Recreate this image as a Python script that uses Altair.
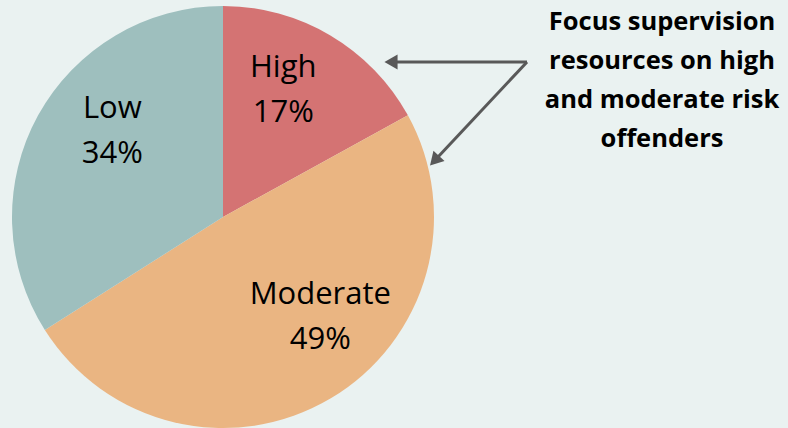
import altair as alt
import pandas as pd

categories = ["High", "Moderate", "Low"]
shares = [17, 49, 34]
labels = ["High\n17%", "Moderate\n49%", "Low\n34%"]
colors = ["#D47373", "#EAB582", "#9EBFBE"]
note_lines = ["Focus supervision", "resources on high", "and moderate risk", "offenders"]

df = pd.DataFrame({
    "category": categories,
    "share": shares,
    "label": labels,
    "order": list(range(len(categories))),
})
TOTAL = sum(shares)

CX, CY, R = 223, 217, 211

arcs = alt.Chart(df).mark_arc(outerRadius=R).encode(
    theta=alt.Theta("share:Q", stack=True),
    order=alt.Order("order:Q"),
    x=alt.value(CX),
    y=alt.value(CY),
    color=alt.Color("category:N", scale=alt.Scale(domain=categories, range=colors), legend=None),
)

offsets = {"High": (-11, -19), "Moderate": (26, -34), "Low": (12, -32)}
text_layers = []
for cat in categories:
    dx, dy = offsets[cat]
    text_layers.append(
        alt.Chart(df)
        .transform_window(cum="sum(share)", sort=[alt.SortField("order")], frame=[None, 0])
        .transform_calculate(mid="datum.cum - datum.share / 2")
        .transform_filter(alt.datum.category == cat)
        .mark_text(radius=140, dx=dx, dy=dy, font="Open Sans", fontSize=31,
                   color="#000000", lineBreak="\n", lineHeight=45,
                   align="center", baseline="alphabetic")
        .encode(
            theta=alt.Theta("mid:Q", scale=alt.Scale(domain=[0, TOTAL])),
            x=alt.value(CX),
            y=alt.value(CY),
            text="label:N",
        )
    )

note_df = pd.DataFrame({"text": ["\n".join(note_lines)]})
note = alt.Chart(note_df).mark_text(
    font="Open Sans", fontWeight="bold", fontSize=25.5, lineBreak="\n", lineHeight=39,
    align="center", baseline="alphabetic", color="#000000"
).encode(text="text:N", x=alt.value(662), y=alt.value(30))

arrow_df = pd.DataFrame({"a": [0]})
arrow_color = "#595959"
line1 = alt.Chart(arrow_df).mark_rule(stroke=arrow_color, strokeWidth=3).encode(
    x=alt.value(527), x2=alt.value(392), y=alt.value(62), y2=alt.value(62))
line2 = alt.Chart(arrow_df).mark_rule(stroke=arrow_color, strokeWidth=3).encode(
    x=alt.value(527), x2=alt.value(438), y=alt.value(62), y2=alt.value(157))
head1 = alt.Chart(arrow_df).mark_point(shape="triangle-left", filled=True, size=230,
                                        color=arrow_color, opacity=1).encode(
    x=alt.value(391), y=alt.value(62))
head2 = alt.Chart(arrow_df).mark_point(shape="triangle", filled=True, size=230, angle=223,
                                        color=arrow_color, opacity=1).encode(
    x=alt.value(436), y=alt.value(159))

chart = alt.layer(arcs, *text_layers, note, line1, line2, head1, head2).properties(
    width=788, height=428,
    autosize=alt.AutoSizeParams(type="none"),
    padding=0,
    background="#EAF2F1",
).configure_view(stroke=None)

chart.save("out.html", embed_options={"renderer": "svg", "actions": False})
